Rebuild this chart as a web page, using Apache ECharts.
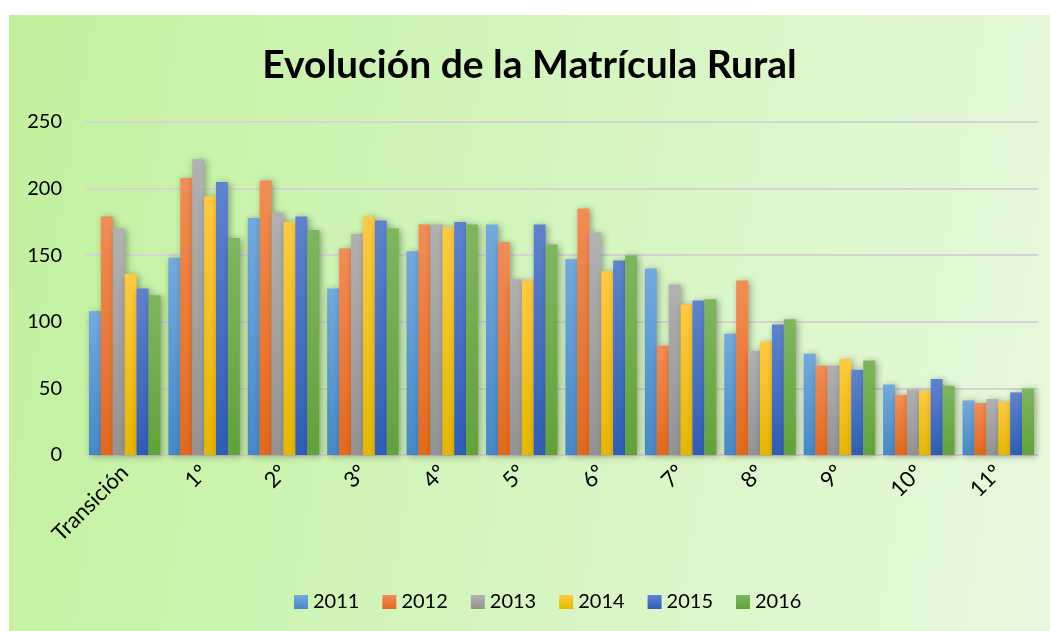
<!DOCTYPE html>
<html>
<head>
<meta charset="utf-8">
<script src="https://cdn.jsdelivr.net/npm/echarts@6/dist/echarts.min.js"></script>
<style>
  html, body { margin: 0; padding: 0; background: #fff; }
  #wrap { position: relative; width: 1050px; height: 631px; background: #fff; overflow: hidden; }
  #chart {
    position: absolute; left: 9px; top: 15px; width: 1041px; height: 616px;
    background: linear-gradient(100deg, #c2f19d 0%, #d2f5bb 45%, #e8f9dd 100%);
  }
</style>
</head>
<body>
<div id="wrap"><div id="chart"></div></div>
<script>
const categories = ['Transición', '1º', '2º', '3º', '4º', '5º', '6º', '7º', '8º', '9º', '10º', '11º'];
const years = ['2011', '2012', '2013', '2014', '2015', '2016'];

const values2011 = [108, 148, 178, 125, 153, 173, 147, 140, 91, 76, 53, 41];
const values2012 = [179, 208, 206, 155, 173, 160, 185, 82, 131, 67, 45, 39];
const values2013 = [170, 222, 182, 166, 173, 132, 167, 128, 78, 67, 49, 42];
const values2014 = [136, 194, 175, 179, 171, 131, 138, 113, 85, 72, 48, 40];
const values2015 = [125, 205, 179, 176, 175, 173, 146, 116, 98, 64, 57, 47];
const values2016 = [120, 163, 169, 170, 173, 158, 150, 117, 102, 71, 52, 50];

const yTicks = [0, 50, 100, 150, 200, 250];

const seriesValues = [values2011, values2012, values2013, values2014, values2015, values2016];
const palette = [
  ['#73a9de', '#4689c7'],
  ['#f38c56', '#e4691a'],
  ['#b1b1b1', '#939393'],
  ['#ffca40', '#e6b700'],
  ['#5e83cf', '#2e5db7'],
  ['#7fb65e', '#61a239']
];

const font = 'Lato, "Open Sans", sans-serif';

const myChart = echarts.init(document.getElementById('chart'), null, { renderer: 'canvas' });

const option = {
  backgroundColor: 'transparent',
  animation: false,
  title: {
    text: 'Evolución de la Matrícula Rural',
    left: 'center',
    top: 26,
    textStyle: { color: '#000', fontSize: 39, fontWeight: 'bold', fontFamily: font }
  },
  legend: {
    data: years,
    bottom: 14,
    left: 280,
    icon: 'rect',
    itemWidth: 14,
    itemHeight: 14,
    itemGap: 23,
    textStyle: { color: '#000', fontSize: 20, fontFamily: font }
  },
  grid: { left: 76, right: 12, top: 107, bottom: 176, containLabel: false },
  xAxis: {
    type: 'category',
    data: categories,
    axisLine: { lineStyle: { color: '#d4d4d4', width: 2 } },
    axisTick: { show: false },
    axisLabel: { rotate: 45, color: '#000', fontSize: 22, fontFamily: font, margin: 14, interval: 0 }
  },
  yAxis: {
    type: 'value',
    min: yTicks[0],
    max: yTicks[yTicks.length - 1],
    interval: 50,
    axisLine: { show: false },
    axisTick: { show: false },
    axisLabel: { color: '#000', fontSize: 20, fontFamily: font, margin: 23 },
    splitLine: { lineStyle: { color: '#d4d4d4', width: 2 } }
  },
  series: years.map((y, i) => ({
    name: y,
    type: 'bar',
    data: seriesValues[i],
    barGap: '0%',
    barCategoryGap: '10%',
    itemStyle: {
      color: new echarts.graphic.LinearGradient(0, 0, 0, 1, [
        { offset: 0, color: palette[i][0] },
        { offset: 1, color: palette[i][1] }
      ]),
      shadowBlur: 7,
      shadowColor: 'rgba(0,0,0,0.35)',
      shadowOffsetX: 2,
      shadowOffsetY: 1
    }
  }))
};

myChart.setOption(option);
</script>
</body>
</html>
